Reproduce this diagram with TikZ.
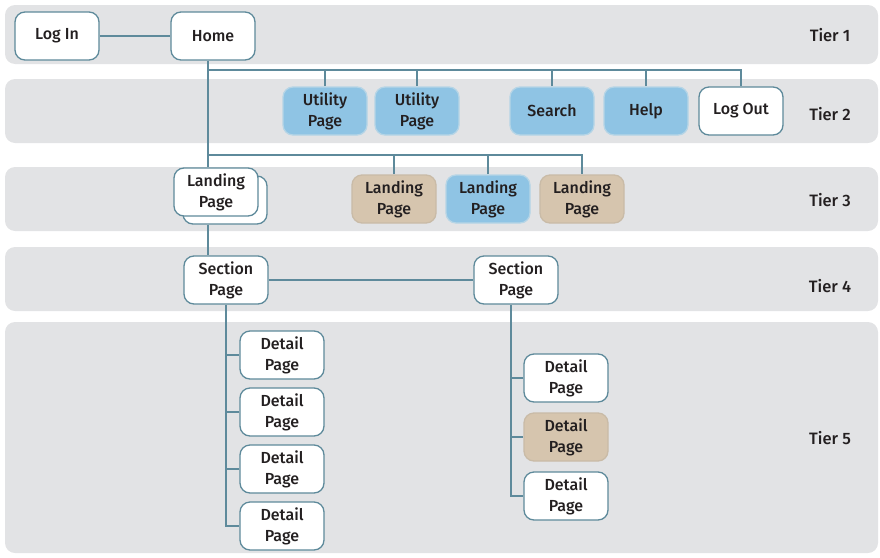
\documentclass[tikz,border=0pt]{standalone}
\usepackage{fontspec}
\setmainfont{Fira Sans Medium}
\usetikzlibrary{backgrounds}
\definecolor{band}{HTML}{E2E3E5}
\definecolor{edge}{HTML}{5E8A9B}
\definecolor{bluefill}{HTML}{8FC4E4}
\definecolor{brownfill}{HTML}{D6C5AE}
\definecolor{ink}{HTML}{231F20}
\tikzset{
  page/.style={draw=edge, line width=1.3pt, fill=white, rounded corners=10pt,
    minimum width=84pt, minimum height=48pt, align=center, inner sep=1pt,
    text=ink, font=\fontsize{16}{21}\selectfont},
  bluepage/.style={page, fill=bluefill, draw=bluefill!80!edge!60!white},
  brownpage/.style={page, fill=brownfill, draw=brownfill!85!gray},
  tierband/.style={fill=band, rounded corners=10pt},
  tierlabel/.style={text=ink, font=\fontsize{16.5}{20}\selectfont},
  link/.style={draw=edge, line width=1.3pt},
}
\begin{document}
\begin{tikzpicture}[x=1pt, y=-1pt]
\useasboundingbox (0,0) rectangle (880,557);

% tier bands
\begin{pgfonlayer}{background}
\fill[tierband] (5,5) rectangle (878,64);
\fill[tierband] (5,79) rectangle (878,143);
\fill[tierband] (5,167) rectangle (878,231);
\fill[tierband] (5,247) rectangle (878,311);
\fill[tierband] (5,322) rectangle (878,553);
\end{pgfonlayer}

% tier labels
\node[tierlabel] (t1) at (830,35) {Tier 1};
\node[tierlabel] (t2) at (830,114) {Tier 2};
\node[tierlabel] (t3) at (830,200) {Tier 3};
\node[tierlabel] (t4) at (830,286) {Tier 4};
\node[tierlabel] (t5) at (830,438) {Tier 5};

% tier 1
\node[page] (login) at (57,36) {Log In};
\node[page] (home) at (213,36) {Home};

% tier 2
\node[bluepage] (util1) at (325,111) {Utility\\Page};
\node[bluepage] (util2) at (417,111) {Utility\\Page};
\node[bluepage] (search) at (552,111) {Search};
\node[bluepage] (help) at (646,111) {Help};
\node[page] (logout) at (741,111) {Log Out};

% tier 3: a stack of landing pages, then single ones
\node[page] (landback) at (225,200) {};
\node[page] (land) at (216,192) {Landing\\Page};
\node[brownpage] (landA) at (394,199) {Landing\\Page};
\node[bluepage] (landB) at (488,199) {Landing\\Page};
\node[brownpage] (landC) at (582,199) {Landing\\Page};

% tier 4
\node[page] (secL) at (226,280) {Section\\Page};
\node[page] (secR) at (516,280) {Section\\Page};

% tier 5
\node[page] (dL1) at (282,355) {Detail\\Page};
\node[page] (dL2) at (282,412) {Detail\\Page};
\node[page] (dL3) at (282,469) {Detail\\Page};
\node[page] (dL4) at (282,526) {Detail\\Page};
\node[page] (dR1) at (566,378) {Detail\\Page};
\node[brownpage] (dR2) at (566,437) {Detail\\Page};
\node[page] (dR3) at (566,496) {Detail\\Page};

% bus coordinates
\coordinate (busA) at (208,70);
\coordinate (busB) at (208,155);
\coordinate (spineL) at (226,0);
\coordinate (spineR) at (511,0);

\begin{pgfonlayer}{background}
\draw[link] (login) -- (home);
% home to tier 2 and tier 3
\draw[link] (busA |- home.south) -- (busA |- land.north);
\draw[link] (busA) -- (busA -| logout) -- (logout.north);
\foreach \n in {util1,util2,search,help}
  \draw[link] (\n.north) -- (\n.north |- busA);
\draw[link] (busB) -- (busB -| landC) -- (landC.north);
\foreach \n in {landA,landB}
  \draw[link] (\n.north) -- (\n.north |- busB);
% landing to sections
\draw[link] (busA |- landback.south) -- (busA |- secL.north);
\draw[link] (secL) -- (secR);
% detail spines
\draw[link] (secL.south) -- (spineL |- dL4) -- (dL4.west);
\foreach \n in {dL1,dL2,dL3}
  \draw[link] (\n.west) -- (spineL |- \n);
\draw[link] (spineR |- secR.south) -- (spineR |- dR3) -- (dR3.west);
\foreach \n in {dR1,dR2}
  \draw[link] (\n.west) -- (spineR |- \n);
\end{pgfonlayer}
\end{tikzpicture}
\end{document}
